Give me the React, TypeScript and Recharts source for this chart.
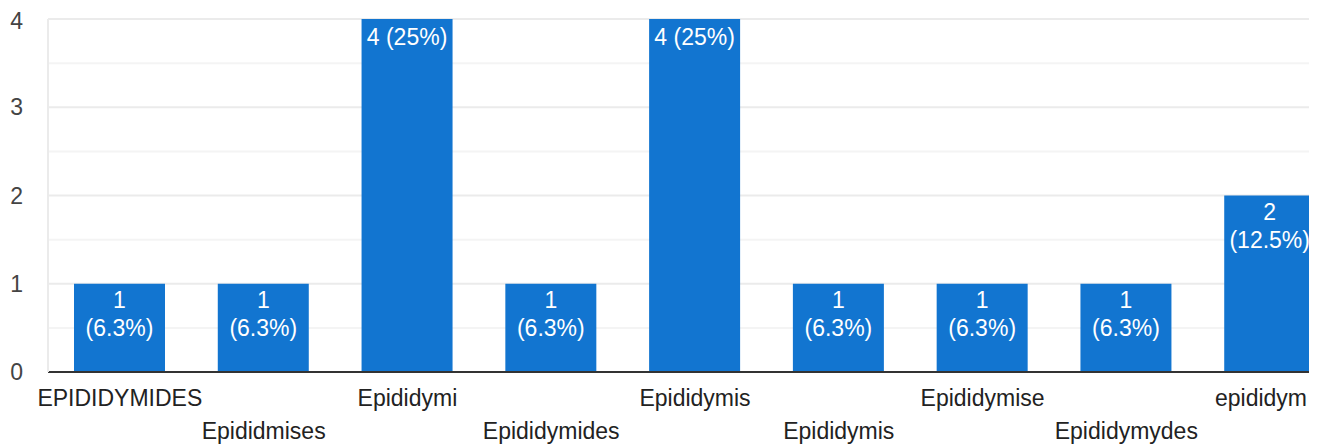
import { BarChart, Bar, XAxis, YAxis, CartesianGrid, LabelList } from "recharts";

const categories = [
  "EPIDIDYMIDES",
  "Epididmises",
  "Epididymi",
  "Epididymides",
  "Epididymis",
  "Epididymis",
  "Epididymise",
  "Epididymydes",
  "epididym",
];
const counts = [1, 1, 4, 1, 4, 1, 1, 1, 2];
const majorTicks = [0, 1, 2, 3, 4];
const minorTicks = [0.5, 1.5, 2.5, 3.5];

const total = counts.reduce((a, b) => a + b, 0);
const data = categories.map((name, i) => ({ key: `${name}-${i}`, name, count: counts[i] }));

const FONT = "Arial, 'Liberation Sans', sans-serif";
const BAR_COLOR = "#1275d0";
const VISIBLE_WIDTH = 1301;

function pct(v: number) {
  const p = (v / total) * 100;
  return `${Math.round(p * 10) / 10}%`;
}

function BarValueLabel(props: any) {
  const { x, y, width, value } = props;
  const cx = x + width / 2;
  const oneLine = `${value} (${pct(value)})`;
  const style = { fill: "#fff", fontSize: 23, fontFamily: FONT };
  if (oneLine.length <= 7) {
    return (
      <text x={cx} y={y + 26} textAnchor="middle" style={style}>
        {oneLine}
      </text>
    );
  }
  return (
    <text textAnchor="middle" style={style}>
      <tspan x={cx} y={y + 24}>{value}</tspan>
      <tspan x={cx} y={y + 52}>({pct(value)})</tspan>
    </text>
  );
}

function XTick(props: any) {
  const { x, y, payload, index } = props;
  const row = index % 2;
  const label = categories[index] ?? payload.value;
  const nearEdge = x + 55 > VISIBLE_WIDTH;
  return (
    <text
      x={nearEdge ? VISIBLE_WIDTH - 2 : x}
      y={y + 26 + row * 33}
      textAnchor={nearEdge ? "end" : "middle"}
      style={{ fill: "#222", fontSize: 23, fontFamily: FONT }}
    >
      {label}
    </text>
  );
}

export default function App() {
  return (
    <div style={{ width: VISIBLE_WIDTH, height: 437, overflow: "hidden", background: "#fff" }}>
      <BarChart width={1334} height={437} data={data} margin={{ top: 11, right: 0, left: 0, bottom: 0 }}>
        <CartesianGrid vertical={false} horizontalValues={minorTicks} stroke="#f4f4f4" strokeWidth={2} />
        <CartesianGrid vertical={false} horizontalValues={majorTicks} stroke="#ebebeb" strokeWidth={2} />
        <XAxis
          dataKey="key"
          interval={0}
          height={73}
          tickLine={false}
          axisLine={{ stroke: "#333", strokeWidth: 2 }}
          tick={<XTick />}
        />
        <YAxis
          domain={[0, 4]}
          ticks={majorTicks}
          width={40}
          tickLine={false}
          tickSize={0}
          tickMargin={25}
          axisLine={{ stroke: "#ebebeb", strokeWidth: 2 }}
          tick={{ fill: "#444", fontSize: 23, fontFamily: FONT }}
        />
        <Bar dataKey="count" fill={BAR_COLOR} barSize={91} isAnimationActive={false}>
          <LabelList dataKey="count" content={<BarValueLabel />} />
        </Bar>
      </BarChart>
    </div>
  );
}
